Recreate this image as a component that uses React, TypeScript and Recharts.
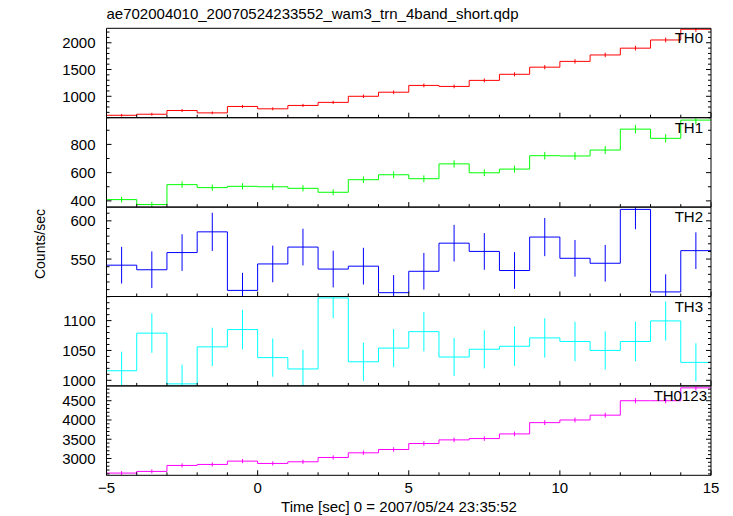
import { ComposedChart, Line, Scatter, ErrorBar, XAxis, YAxis } from "recharts"

// bin centres (1 s bins)
const binCenters = [-4.5, -3.5, -2.5, -1.5, -0.5, 0.5, 1.5, 2.5, 3.5, 4.5, 5.5, 6.5, 7.5, 8.5, 9.5, 10.5, 11.5, 12.5, 13.5, 14.5]
const xMajorTicks = [-5, 0, 5, 10, 15]
const xAllTicks = [-5, -4, -3, -2, -1, 0, 1, 2, 3, 4, 5, 6, 7, 8, 9, 10, 11, 12, 13, 14, 15]

const th0 = [645, 665, 734, 690, 810, 766, 829, 886, 1000, 1076, 1203, 1184, 1297, 1411, 1544, 1652, 1772, 1899, 2052, 2252]
const th0Err = [25, 26, 27, 26, 28, 28, 29, 30, 32, 33, 35, 34, 36, 38, 39, 41, 42, 44, 45, 48]

const th1 = [409, 374, 515, 494, 503, 500, 489, 461, 550, 585, 557, 662, 599, 625, 720, 718, 760, 908, 843, 972]
const th1Err = [20, 19, 23, 22, 22, 22, 22, 21, 23, 24, 24, 26, 24, 25, 27, 27, 28, 30, 29, 31]

const th2 = [542, 536, 558.5, 585.6, 509, 543.6, 565.7, 536.9, 540.7, 506, 534, 570.8, 560, 535, 578.8, 551, 544.5, 615, 507, 561]
const th2Err = [24, 24, 24, 25, 23, 24, 24, 24, 24, 23, 24, 24, 24, 24, 25, 24, 24, 26, 23, 24]

const th3 = [1016, 1079, 994, 1056, 1085, 1038, 1019, 1138, 1031, 1054, 1081.5, 1039, 1052, 1057, 1071, 1065, 1050, 1065, 1099.5, 1030]
const th3Err = [32, 33, 32, 32, 33, 32, 32, 34, 32, 32, 33, 32, 32, 33, 33, 33, 32, 33, 33, 32]

const th0123 = [2621, 2664, 2819, 2845, 2931, 2871, 2914, 3026, 3147, 3233, 3388, 3483, 3517, 3638, 3931, 4000, 4125, 4500, 4500, 4834]
const th0123Err = [51, 52, 53, 53, 54, 54, 54, 55, 56, 57, 58, 59, 59, 60, 63, 63, 64, 67, 67, 70]

const W = 733
const H = 516
const PLOT_LEFT = 106.5
const PLOT_RIGHT = 711
const PANEL_TOP = 28.3
const PANEL_H = 89.4
const FONT = "'Liberation Sans', Arial, Helvetica, sans-serif"

const panels = [
  { name: "TH0", values: th0, errors: th0Err, color: "#ff0000", domain: [600, 2270], major: [1000, 1500, 2000], minor: 100 },
  { name: "TH1", values: th1, errors: th1Err, color: "#00ff00", domain: [356, 989], major: [400, 600, 800], minor: 100 },
  { name: "TH2", values: th2, errors: th2Err, color: "#0000ff", domain: [501, 618], major: [550, 600], minor: 10 },
  { name: "TH3", values: th3, errors: th3Err, color: "#00ffff", domain: [990.6, 1140.4], major: [1000, 1050, 1100], minor: 10 },
  { name: "TH0123", values: th0123, errors: th0123Err, color: "#ff00ff", domain: [2563, 4885], major: [3000, 3500, 4000, 4500], minor: 100 },
]

function minorTicks(domain: number[], step: number) {
  const out: number[] = []
  for (let k = Math.ceil(domain[0] / step); k * step < domain[1]; k++) out.push(k * step)
  return out
}

const fmt = (v: number) => (v < 0 ? "\u2212" + Math.abs(v) : String(v))

function XTick(props: any) {
  const { x, y, payload, side, showLabel } = props
  const v = payload.value
  const major = xMajorTicks.includes(v)
  const len = major ? 5 : 3
  const dir = side === "top" ? 1 : -1
  return (
    <g>
      <line x1={x} x2={x} y1={y} y2={y + dir * len} stroke="#000" />
      {showLabel && major && side === "bottom" ? (
        <text x={x} y={y + 18} textAnchor="middle" fontSize={15} fill="#000" fontFamily={FONT}>
          {fmt(v)}
        </text>
      ) : null}
    </g>
  )
}

function YTick(props: any) {
  const { x, y, payload, side, major } = props
  const v = payload.value
  const isMajor = major.includes(v)
  const len = isMajor ? 5 : 3
  const dir = side === "left" ? 1 : -1
  return (
    <g>
      <line x1={x} x2={x + dir * len} y1={y} y2={y} stroke="#000" />
      {isMajor && side === "left" ? (
        <text x={x - 11} y={y + 5.5} textAnchor="end" fontSize={15} fill="#000" fontFamily={FONT}>
          {v}
        </text>
      ) : null}
    </g>
  )
}

function Panel({ p, i }: { p: (typeof panels)[number]; i: number }) {
  const top = PANEL_TOP + i * PANEL_H
  const bottom = H - (top + PANEL_H)
  const edges = p.values.map((v, k) => ({ x: binCenters[k] - 0.5, y: v }))
  edges.push({ x: binCenters[binCenters.length - 1] + 0.5, y: p.values[p.values.length - 1] })
  const centers = p.values.map((v, k) => ({ x: binCenters[k], y: v, err: p.errors[k] }))
  const yTicks = minorTicks(p.domain, p.minor)
  const last = i === panels.length - 1
  // axes are 1px thick, so margins are shrunk by 1 to keep the plot box in place
  const margin = { top: top - 1, bottom: bottom - 1, left: PLOT_LEFT - 1, right: W - PLOT_RIGHT - 1 }

  return (
    <>
      {/* error bars, clipped to the plot box since some run past the edges */}
      <div
        style={{
          position: "absolute",
          left: 0,
          top: 0,
          clipPath: `inset(${top}px ${W - PLOT_RIGHT}px ${bottom}px ${PLOT_LEFT}px)`,
        }}
      >
        <ComposedChart width={W} height={H} margin={margin}>
          <XAxis xAxisId="b" dataKey="x" type="number" domain={[-5, 15]} height={1} tick={false} axisLine={false} allowDataOverflow />
          <XAxis xAxisId="t" orientation="top" type="number" domain={[-5, 15]} height={1} tick={false} axisLine={false} />
          <YAxis yAxisId="l" type="number" domain={p.domain} width={1} tick={false} axisLine={false} allowDataOverflow />
          <YAxis yAxisId="r" orientation="right" type="number" domain={p.domain} width={1} tick={false} axisLine={false} />
          <Scatter
            xAxisId="b"
            yAxisId="l"
            data={centers}
            dataKey="y"
            fill={p.color}
            shape={() => <g />}
            isAnimationActive={false}
          >
            <ErrorBar dataKey="err" direction="y" width={0} stroke={p.color} strokeWidth={1} isAnimationActive={false} />
          </Scatter>
        </ComposedChart>
      </div>

      {/* step line plus frame: box, inward ticks, tick labels */}
      <div style={{ position: "absolute", left: 0, top: 0 }}>
        <ComposedChart width={W} height={H} margin={margin}>
          <XAxis
            xAxisId="b"
            dataKey="x"
            type="number"
            domain={[-5, 15]}
            ticks={xAllTicks}
            interval={0}
            height={1}
            tickSize={0}
            tickMargin={0}
            tickLine={false}
            axisLine={{ stroke: "#000" }}
            allowDataOverflow
            tick={(t: any) => <XTick {...t} side="bottom" showLabel={last} />}
          />
          <XAxis
            xAxisId="t"
            orientation="top"
            type="number"
            domain={[-5, 15]}
            ticks={xAllTicks}
            interval={0}
            height={1}
            tickSize={0}
            tickMargin={0}
            tickLine={false}
            axisLine={{ stroke: "#000" }}
            allowDataOverflow
            tick={(t: any) => <XTick {...t} side="top" />}
          />
          <YAxis
            yAxisId="l"
            type="number"
            domain={p.domain}
            ticks={yTicks}
            interval={0}
            width={1}
            tickSize={0}
            tickMargin={0}
            tickLine={false}
            axisLine={{ stroke: "#000" }}
            allowDataOverflow
            tick={(t: any) => <YTick {...t} side="left" major={p.major} />}
          />
          <YAxis
            yAxisId="r"
            orientation="right"
            type="number"
            domain={p.domain}
            ticks={yTicks}
            interval={0}
            width={1}
            tickSize={0}
            tickMargin={0}
            tickLine={false}
            axisLine={{ stroke: "#000" }}
            allowDataOverflow
            tick={(t: any) => <YTick {...t} side="right" major={p.major} />}
          />
          <Line
            xAxisId="b"
            yAxisId="l"
            data={edges}
            dataKey="y"
            type="stepAfter"
            stroke={p.color}
            strokeWidth={1}
            dot={false}
            isAnimationActive={false}
          />
        </ComposedChart>
      </div>
    </>
  )
}

export default function App() {
  return (
    <div style={{ position: "absolute", left: 0, top: 0, width: W, height: H, background: "#fff", fontFamily: FONT }}>
      {panels.map((p, i) => (
        <Panel key={p.name} p={p} i={i} />
      ))}
      <svg width={W} height={H} style={{ position: "absolute", left: 0, top: 0, pointerEvents: "none" }}>
        <text x={106.5} y={19} fontSize={15} fill="#000" fontFamily={FONT}>
          ae702004010_20070524233552_wam3_trn_4band_short.qdp
        </text>
        {panels.map((p, i) => (
          <text
            key={p.name}
            x={p.name.length > 3 ? 707 : 703}
            y={PANEL_TOP + i * PANEL_H + 15}
            textAnchor="end"
            fontSize={15}
            fill="#000"
            fontFamily={FONT}
          >
            {p.name}
          </text>
        ))}
        <text x={399} y={512} textAnchor="middle" fontSize={15} fill="#000" fontFamily={FONT}>
          Time [sec] 0 = 2007/05/24 23:35:52
        </text>
        <text x={45} y={244} transform="rotate(-90 45 244)" textAnchor="middle" fontSize={14} fill="#000" fontFamily={FONT}>
          Counts/sec
        </text>
      </svg>
    </div>
  )
}
